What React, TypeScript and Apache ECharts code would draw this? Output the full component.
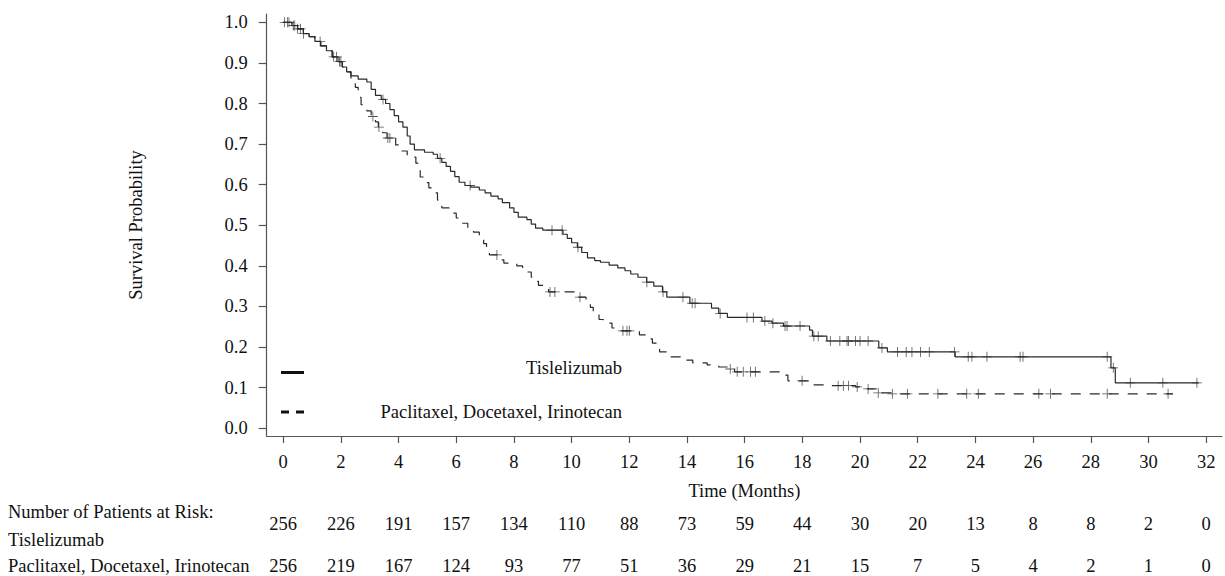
import React, { useEffect, useRef } from "react";
import * as echarts from "echarts";

// ---- data ----
const xTicks = [0, 2, 4, 6, 8, 10, 12, 14, 16, 18, 20, 22, 24, 26, 28, 30, 32];
const yTicks = [0.0, 0.1, 0.2, 0.3, 0.4, 0.5, 0.6, 0.7, 0.8, 0.9, 1.0];

const riskTisl = [256, 226, 191, 157, 134, 110, 88, 73, 59, 44, 30, 20, 13, 8, 8, 2, 0];
const riskChemo = [256, 219, 167, 124, 93, 77, 51, 36, 29, 21, 15, 7, 5, 4, 2, 1, 0];

const seriesNames = ["Tislelizumab", "Paclitaxel, Docetaxel, Irinotecan"];

// Kaplan-Meier steps: [time of drop (months), survival after drop]
const tislCurve: number[][] = [
  [0, 1.0], [0.3, 0.992], [0.5, 0.984], [0.7, 0.972], [0.9, 0.965], [1.1, 0.953],
  [1.3, 0.942], [1.5, 0.93], [1.7, 0.915], [1.9, 0.903], [2.05, 0.89], [2.2, 0.878],
  [2.35, 0.868], [2.6, 0.86], [2.9, 0.853], [3.05, 0.835], [3.2, 0.82], [3.4, 0.81],
  [3.55, 0.8], [3.7, 0.785], [3.85, 0.77], [4.0, 0.755], [4.15, 0.742], [4.3, 0.72],
  [4.4, 0.7], [4.55, 0.686], [4.9, 0.68], [5.2, 0.675], [5.35, 0.665], [5.5, 0.655],
  [5.65, 0.645], [5.8, 0.633], [5.95, 0.62], [6.1, 0.606], [6.3, 0.598], [6.5, 0.594],
  [6.8, 0.587], [7.0, 0.58], [7.2, 0.572], [7.45, 0.565], [7.6, 0.556], [7.85, 0.543],
  [8.0, 0.532], [8.15, 0.52], [8.45, 0.514], [8.6, 0.503], [8.75, 0.493], [9.0, 0.488],
  [9.7, 0.478], [9.85, 0.468], [10.0, 0.457], [10.2, 0.446], [10.35, 0.433], [10.55, 0.42],
  [10.8, 0.413], [11.0, 0.409], [11.3, 0.402], [11.6, 0.395], [11.85, 0.388], [12.05, 0.38],
  [12.3, 0.372], [12.6, 0.36], [12.85, 0.35], [13.15, 0.336], [13.3, 0.323], [14.1, 0.308],
  [14.85, 0.296], [15.1, 0.283], [15.4, 0.273], [16.6, 0.264], [16.95, 0.259], [17.35, 0.252],
  [18.25, 0.242], [18.35, 0.227], [18.85, 0.215], [20.65, 0.198], [20.95, 0.188],
  [23.3, 0.176], [28.7, 0.149], [28.85, 0.112], [31.75, 0.112],
];

const chemoCurve: number[][] = [
  [0, 1.0], [0.3, 0.992], [0.5, 0.984], [0.7, 0.972], [0.9, 0.965], [1.1, 0.953],
  [1.3, 0.942], [1.5, 0.93], [1.7, 0.915], [1.9, 0.903], [2.05, 0.89], [2.2, 0.878],
  [2.35, 0.862], [2.5, 0.84], [2.6, 0.815], [2.7, 0.797], [2.9, 0.782], [3.05, 0.768],
  [3.2, 0.755], [3.3, 0.742], [3.45, 0.728], [3.6, 0.715], [3.9, 0.698], [4.1, 0.683],
  [4.3, 0.668], [4.6, 0.653], [4.7, 0.636], [4.75, 0.619], [4.9, 0.605], [5.05, 0.592],
  [5.2, 0.58], [5.35, 0.562], [5.5, 0.543], [5.75, 0.53], [6.0, 0.518], [6.2, 0.505],
  [6.4, 0.494], [6.6, 0.483], [6.8, 0.472], [6.95, 0.455], [7.05, 0.44], [7.15, 0.427],
  [7.55, 0.415], [7.65, 0.407], [8.1, 0.4], [8.3, 0.392], [8.45, 0.385], [8.6, 0.372],
  [8.7, 0.362], [8.85, 0.352], [9.2, 0.336], [10.15, 0.323], [10.5, 0.311], [10.65, 0.298],
  [10.75, 0.284], [10.95, 0.268], [11.1, 0.259], [11.4, 0.247], [11.7, 0.24], [12.35, 0.23],
  [12.6, 0.22], [12.8, 0.21], [12.95, 0.198], [13.05, 0.188], [13.4, 0.176], [13.8, 0.168],
  [14.2, 0.161], [14.7, 0.156], [15.1, 0.151], [15.45, 0.146], [15.65, 0.139], [17.2, 0.131],
  [17.5, 0.117], [18.35, 0.107], [19.0, 0.105], [19.85, 0.102], [20.25, 0.097], [20.6, 0.087],
  [21.1, 0.085], [30.85, 0.085],
];

// censoring times (months)
const tislCensor = [
  0.05, 0.2, 0.35, 0.5, 0.7, 1.28, 1.75, 1.95, 3.46, 5.44, 6.48, 9.32, 9.67, 10.22, 12.61,
  13.17, 13.86, 14.18, 14.28, 15.15, 16.08, 16.3, 16.7, 16.98, 17.4, 17.47, 17.92, 18.4,
  18.55, 18.97, 19.3, 19.55, 19.6, 19.84, 20.0, 20.28, 20.76, 21.3, 21.6, 21.8, 22.1, 22.4,
  23.28, 23.75, 23.88, 24.4, 25.55, 25.65, 28.57, 28.78, 29.37, 30.5, 31.68,
];
const chemoCensor = [
  0.15, 0.4, 0.6, 1.85, 2.0, 3.11, 3.32, 3.63, 3.7, 7.41, 9.25, 9.42, 10.29, 11.78, 11.92,
  12.0, 15.5, 15.74, 15.95, 16.2, 16.37, 17.99, 19.24, 19.42, 19.6, 19.9, 20.28, 20.63,
  21.12, 21.64, 22.7, 23.7, 24.1, 26.2, 26.6, 28.57, 30.68,
];

const levelAt = (curve: number[][], t: number) => {
  let s = curve[0][1];
  for (const p of curve) {
    if (p[0] <= t) s = p[1];
    else break;
  }
  return s;
};

const FONT = "Liberation Serif";
const FS = 18.5;
const INK = "#111";
const AXIS = "#555";
const LINE = "#2a2a2a";
const PLUS = "path://M4.6,0 H5.4 V4.6 H10 V5.4 H5.4 V10 H4.6 V5.4 H0 V4.6 H4.6 Z";

export default function App() {
  const ref = useRef<HTMLDivElement>(null);

  useEffect(() => {
    document.body.style.margin = "0";
    const chart = echarts.init(ref.current!, null, { renderer: "svg" });
    const xMin = -0.572;
    const xMax = 32.55;
    const txt = { fontSize: FS, fontFamily: FONT, color: INK };
    const riskAxis = (values: number[], offset: number) => ({
      type: "value",
      gridIndex: 0,
      min: xMin,
      max: xMax,
      position: "bottom",
      offset,
      axisLine: { show: false },
      axisTick: { show: false },
      splitLine: { show: false },
      axisLabel: {
        customValues: xTicks,
        formatter: (v: number) => String(values[xTicks.indexOf(Math.round(v))]),
        margin: 0,
        verticalAlign: "middle",
        ...txt,
      },
    });
    const gText = (text: string, x: number, y: number, align: string) => ({
      type: "text",
      x,
      y,
      style: { text, font: `${FS}px "${FONT}"`, fill: INK, textAlign: align, textVerticalAlign: "middle" },
    });

    chart.setOption({
      animation: false,
      backgroundColor: "#fff",
      grid: { left: 266.7, right: 3, top: 14, bottom: 140, containLabel: false },
      xAxis: [
        {
          type: "value",
          min: xMin,
          max: xMax,
          position: "bottom",
          axisLine: { show: true, onZero: false, lineStyle: { color: AXIS, width: 1.2 } },
          axisTick: { show: true, length: 7, customValues: xTicks, lineStyle: { color: AXIS, width: 1.2 } },
          axisLabel: { customValues: xTicks, margin: 26, verticalAlign: "middle", ...txt },
          splitLine: { show: false },
          name: "Time (Months)",
          nameLocation: "middle",
          nameGap: 55,
          nameTextStyle: { ...txt, verticalAlign: "middle" },
        },
        riskAxis(riskTisl, 88),
        riskAxis(riskChemo, 130),
      ],
      yAxis: {
        type: "value",
        min: -0.019,
        max: 1.0205,
        axisLine: { show: true, onZero: false, lineStyle: { color: AXIS, width: 1.2 } },
        axisTick: { show: true, length: 8, customValues: yTicks, lineStyle: { color: AXIS, width: 1.2 } },
        axisLabel: {
          customValues: yTicks,
          formatter: (v: number) => v.toFixed(1),
          margin: 19,
          ...txt,
        },
        splitLine: { show: false },
        name: "Survival Probability",
        nameLocation: "middle",
        nameGap: 131,
        nameRotate: 90,
        nameTextStyle: { ...txt, verticalAlign: "middle" },
      },
      series: [
        {
          name: seriesNames[0],
          type: "line",
          step: "end",
          showSymbol: false,
          data: tislCurve,
          lineStyle: { color: LINE, width: 1.2 },
        },
        {
          name: seriesNames[1],
          type: "line",
          step: "end",
          showSymbol: false,
          data: chemoCurve,
          lineStyle: { color: LINE, width: 1.2, type: [10, 9] },
        },
        {
          type: "scatter",
          data: tislCensor.map((t) => [t, levelAt(tislCurve, t)]),
          symbol: PLUS,
          symbolSize: 10,
          itemStyle: { color: LINE },
        },
        {
          type: "scatter",
          data: chemoCensor.map((t) => [t, levelAt(chemoCurve, t)]),
          symbol: PLUS,
          symbolSize: 10,
          itemStyle: { color: LINE },
        },
      ],
      graphic: [
        { type: "line", shape: { x1: 281, y1: 372.5, x2: 304, y2: 372.5 }, style: { stroke: "#111", lineWidth: 3 } },
        { type: "line", shape: { x1: 281, y1: 412, x2: 289, y2: 412 }, style: { stroke: "#111", lineWidth: 3 } },
        { type: "line", shape: { x1: 296, y1: 412, x2: 304, y2: 412 }, style: { stroke: "#111", lineWidth: 3 } },
        gText(seriesNames[0], 622, 368, "right"),
        gText(seriesNames[1], 622, 412, "right"),
        gText("Number of Patients at Risk:", 8, 512, "left"),
        gText(seriesNames[0], 8, 540, "left"),
        gText(seriesNames[1], 8, 566, "left"),
      ],
    });
    return () => chart.dispose();
  }, []);

  return (
    <div
      ref={ref}
      style={{ position: "absolute", left: 0, top: 0, width: 1225, height: 576, background: "#fff" }}
    />
  );
}
